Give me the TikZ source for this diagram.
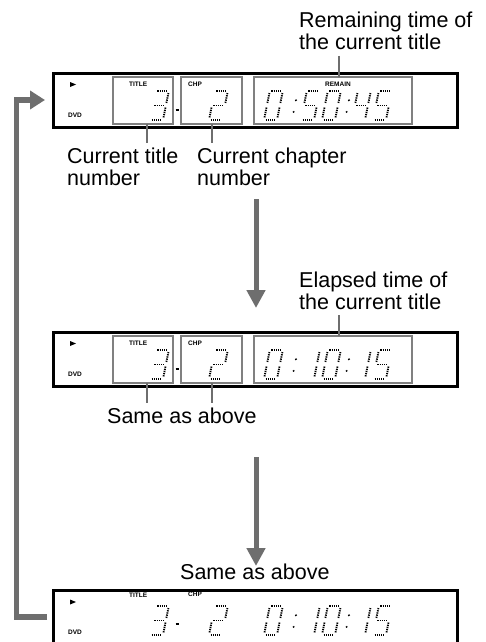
\documentclass[tikz,border=0pt]{standalone}
\usepackage{fontspec}
\setmainfont{Liberation Sans}
\usetikzlibrary{arrows.meta}
\definecolor{arrowgray}{RGB}{110,110,110}
\definecolor{boxgray}{RGB}{128,128,128}
\newcommand\sgA{\draw[seg] (0.12,1)--(0.88,1);}
\newcommand\sgB{\draw[seg] (1,0.93)--(1,0.57);}
\newcommand\sgC{\draw[seg] (1,0.43)--(1,0.07);}
\newcommand\sgD{\draw[seg] (0.12,0)--(0.88,0);}
\newcommand\sgE{\draw[seg] (0,0.43)--(0,0.07);}
\newcommand\sgF{\draw[seg] (0,0.93)--(0,0.57);}
\newcommand\sgG{\draw[seg] (0.12,0.5)--(0.88,0.5);}
\newcommand\dgZero{\sgA\sgB\sgC\sgD\sgE\sgF}
\newcommand\dgOne{\sgB\sgC}
\newcommand\dgTwo{\sgA\sgB\sgG\sgE\sgD}
\newcommand\dgThree{\sgA\sgB\sgG\sgC\sgD}
\newcommand\dgFour{\sgF\sgG\sgB\sgC}
\newcommand\dgFive{\sgA\sgF\sgG\sgC\sgD}
\newcommand\dgColon{\fill (0,0.28) circle (1.1pt); \fill (0,0.68) circle (1.1pt);}
\newcommand\dgt[3]{\begin{scope}[shift={(#1,-#2)},xslant=0.2,x=13pt,y=29pt]#3\end{scope}}
\begin{document}
\begin{tikzpicture}[x=1pt,y=1pt,
  lbl/.style={font=\fontsize{21.5}{21}\selectfont, inner sep=0pt, anchor=base west},
  tinylbl/.style={font=\bfseries\fontsize{6.5}{7}\selectfont, inner sep=0pt},
  outerbox/.style={draw=black, line width=3pt},
  innerbox/.style={draw=boxgray, line width=2.5pt},
  tickline/.style={draw=arrowgray, line width=2pt},
  bigarrow/.style={draw=arrowgray, line width=5pt, -{Triangle[length=18pt,width=18pt]}},
  looparrow/.style={draw=arrowgray, line width=5.5pt, line join=miter, -{Triangle[length=15pt,width=18pt]}},
  seg/.style={line width=1.8pt, dash pattern=on 1.3pt off 0.9pt}]
\useasboundingbox (0,0) rectangle (485,-642);
\fill[white] (0,0) rectangle (485,-642);

% ---------- display 1 ----------
\draw[outerbox] (53,-73) rectangle (457,-127);
\fill (70,-82) -- (76,-84.5) -- (70,-87) -- cycle;
\node[tinylbl, anchor=west] (dvd1) at (68,-115) {DVD};
\draw[innerbox] (113,-77) rectangle (173,-124);
\draw[innerbox] (181,-77) rectangle (242,-124);
\draw[innerbox] (254,-77) rectangle (412,-124);
\node[tinylbl, anchor=west] (tit1) at (129,-84) {TITLE};
\node[tinylbl, anchor=west] (chp1) at (188,-84) {CHP};
\node[tinylbl] (rem1) at (338,-84) {REMAIN};
\dgt{150}{120}{\dgThree}
\draw[line width=1.5pt] (175.5,-110) -- (179,-110);
\dgt{209}{120}{\dgTwo}
\dgt{264}{120}{\dgZero}
\dgt{292}{120}{\dgColon}
\dgt{301}{120}{\dgFive}
\dgt{322}{120}{\dgZero}
\dgt{345}{120}{\dgColon}
\dgt{352}{120}{\dgFour}
\dgt{373}{120}{\dgFive}

\coordinate (t1a) at (147,-124); \coordinate (t1b) at (147,-143);
\coordinate (c1a) at (212,-124); \coordinate (c1b) at (212,-143);
\coordinate (r1a) at (339,-56);  \coordinate (r1b) at (339,-77);
\draw[tickline] (t1a) -- (t1b);
\draw[tickline] (c1a) -- (c1b);
\draw[tickline] (r1a) -- (r1b);
\node[lbl] (remA) at (299,-28) {Remaining time of};
\node[lbl] (remB) at (299,-50) {the current title};
\node[lbl] (curA) at (67,-163) {Current title};
\node[lbl] (curB) at (67,-185) {number};
\node[lbl] (chA) at (197,-163) {Current chapter};
\node[lbl] (chB) at (197,-185) {number};

% ---------- arrow 1 ----------
\coordinate (a1s) at (256,-199); \coordinate (a1e) at (256,-308);
\draw[bigarrow] (a1s) -- (a1e);

% ---------- display 2 ----------
\draw[outerbox] (53,-332) rectangle (457,-386);
\fill (70,-341) -- (76,-343.5) -- (70,-346) -- cycle;
\node[tinylbl, anchor=west] (dvd2) at (68,-374) {DVD};
\draw[innerbox] (113,-336) rectangle (173,-383);
\draw[innerbox] (181,-336) rectangle (242,-383);
\draw[innerbox] (254,-336) rectangle (412,-383);
\node[tinylbl, anchor=west] (tit2) at (129,-343) {TITLE};
\node[tinylbl, anchor=west] (chp2) at (188,-343) {CHP};
\dgt{150}{379}{\dgThree}
\draw[line width=1.5pt] (175.5,-369) -- (179,-369);
\dgt{209}{379}{\dgTwo}
\dgt{264}{379}{\dgZero}
\dgt{292}{379}{\dgColon}
\dgt{301}{379}{\dgOne}
\dgt{322}{379}{\dgZero}
\dgt{345}{379}{\dgColon}
\dgt{352}{379}{\dgOne}
\dgt{373}{379}{\dgFive}

\coordinate (t2a) at (147,-383); \coordinate (t2b) at (147,-403);
\coordinate (c2a) at (212,-383); \coordinate (c2b) at (212,-403);
\coordinate (e2a) at (339,-315); \coordinate (e2b) at (339,-336);
\draw[tickline] (t2a) -- (t2b);
\draw[tickline] (c2a) -- (c2b);
\draw[tickline] (e2a) -- (e2b);
\node[lbl] (elaA) at (299,-287) {Elapsed time of};
\node[lbl] (elaB) at (299,-309) {the current title};
\node[lbl] (same1) at (107,-423) {Same as above};

% ---------- arrow 2 ----------
\coordinate (a2s) at (256,-457); \coordinate (a2e) at (256,-566);
\draw[bigarrow] (a2s) -- (a2e);

% ---------- display 3 ----------
\node[lbl] (same2) at (180,-579) {Same as above};
\draw[outerbox] (53,-590) rectangle (457,-645);
\fill (70,-599.5) -- (76,-602) -- (70,-604.5) -- cycle;
\node[tinylbl, anchor=west] (dvd3) at (68,-632) {DVD};
\node[tinylbl, anchor=west] (tit3) at (129,-595) {TITLE};
\node[tinylbl, anchor=west] (chp3) at (188,-594) {CHP};
\dgt{150}{635}{\dgThree}
\draw[line width=1.5pt] (175.5,-624) -- (179,-624);
\dgt{209}{635}{\dgTwo}
\dgt{264}{635}{\dgZero}
\dgt{292}{635}{\dgColon}
\dgt{301}{635}{\dgOne}
\dgt{322}{635}{\dgZero}
\dgt{345}{635}{\dgColon}
\dgt{352}{635}{\dgOne}
\dgt{373}{635}{\dgFive}

% ---------- loop arrow ----------
\coordinate (ls) at (47,-617);
\coordinate (lc1) at (16.5,-617);
\coordinate (lc2) at (16.5,-100);
\coordinate (le) at (45,-100);
\draw[looparrow] (ls) -- (lc1) -- (lc2) -- (le);
\end{tikzpicture}
\end{document}
